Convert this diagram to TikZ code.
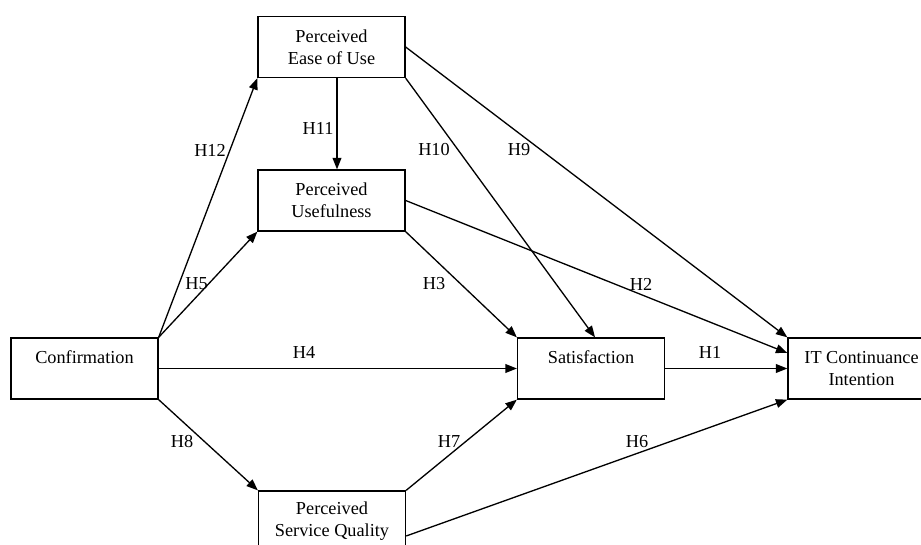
\documentclass[tikz,border=0pt]{standalone}
\usepackage{fontspec}
\setmainfont{Liberation Serif}
\usepackage{tikz}
\usetikzlibrary{arrows.meta,calc}

\tikzset{
  constr/.style={draw, line width=0.75pt, minimum width=2.94cm, minimum height=1.22cm,
    align=center, inner sep=0pt, font=\fontsize{10.4}{12.5}\selectfont},
  hyp/.style={font=\fontsize{10.4}{12.5}\selectfont, inner sep=1pt},
  path/.style={line width=0.75pt, -{Triangle[length=6.5pt,width=5pt]}}
}

\begin{document}
\begin{tikzpicture}
\useasboundingbox (0,0) rectangle (18.42,10.88);

\node [constr] (peou) at (6.63,9.94) {Perceived\\Ease of Use};
\node [constr] (pu) at (6.63,6.87) {Perceived\\Usefulness};
\node [constr] (conf) at (1.69,3.51) {Confirmation\\\mbox{}};
\node [constr] (sat) at (11.82,3.51) {Satisfaction\\\mbox{}};
\node [constr] (it) at (17.23,3.51) {IT Continuance\\Intention};
\node [constr] (psq) at (6.64,0.45) {Perceived\\Service Quality};

\draw [path] (conf.north east) -- (peou.south west);
\draw [path] (conf.north east) -- (pu.south west);
\draw [path] ([xshift=0.11cm]peou.south) -- ([xshift=0.11cm]pu.north);
\draw [path] (conf.east) -- (sat.west);
\draw [path] (conf.south east) -- (psq.north west);
\draw [path] (psq.north east) -- (sat.south west);
\draw [path] (pu.south east) -- (sat.north west);
\draw [path] (peou.south east) -- ([xshift=0.08cm]sat.north);
\draw [path] (peou.east) -- (it.north west);
\draw [path] (pu.east) -- ([yshift=0.31cm]it.west);
\draw [path] (sat.east) -- (it.west);
\draw [path] ([yshift=-0.29cm]psq.east) -- (it.south west);

\node [hyp] (h12) at (4.2,7.88) {H12};
\node [hyp] (h5) at (3.93,5.2) {H5};
\node [hyp] (h11) at (6.36,8.32) {H11};
\node [hyp] (h4) at (6.08,3.84) {H4};
\node [hyp] (h8) at (3.64,2.04) {H8};
\node [hyp] (h7) at (8.98,2.04) {H7};
\node [hyp] (h3) at (8.68,5.2) {H3};
\node [hyp] (h10) at (8.68,7.88) {H10};
\node [hyp] (h9) at (10.38,7.88) {H9};
\node [hyp] (h2) at (12.82,5.2) {H2};
\node [hyp] (h1) at (14.2,3.84) {H1};
\node [hyp] (h6) at (12.74,2.04) {H6};

\end{tikzpicture}
\end{document}
